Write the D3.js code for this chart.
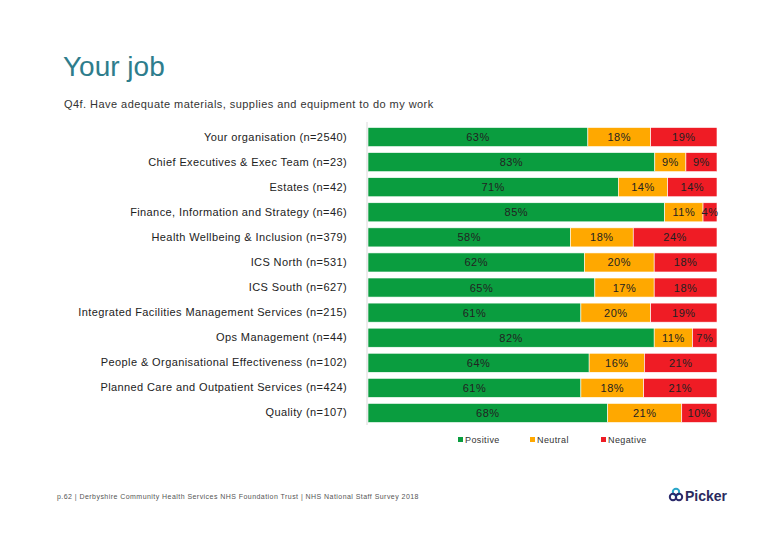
<!DOCTYPE html>
<html><head><meta charset="utf-8">
<script src="https://cdn.jsdelivr.net/npm/d3@7"></script>
<style>body{margin:0;background:#fff;}svg{display:block;}text{font-family:"Liberation Sans",Arial,sans-serif;}</style>
</head><body>
<svg id="c" width="780" height="540"></svg>
<script>
const categories = ["Your organisation (n=2540)","Chief Executives & Exec Team (n=23)","Estates (n=42)","Finance, Information and Strategy (n=46)","Health Wellbeing & Inclusion (n=379)","ICS North (n=531)","ICS South (n=627)","Integrated Facilities Management Services (n=215)","Ops Management (n=44)","People & Organisational Effectiveness (n=102)","Planned Care and Outpatient Services (n=424)","Quality (n=107)"];
const positive = [63,83,71,85,58,62,65,61,82,64,61,68];
const neutral  = [18,9,14,11,18,20,17,20,11,16,18,21];
const negative = [19,9,14,4,24,18,18,19,7,21,21,10];
const seriesNames = ["Positive","Neutral","Negative"];
const colors = ["#0a9d3f","#ffa800","#ef1c25"];

const svg = d3.select("#c");
const rows = categories.map((c,i)=>({cat:c,Positive:positive[i],Neutral:neutral[i],Negative:negative[i]}));
const stacked = d3.stack().keys(seriesNames).offset(d3.stackOffsetExpand)(rows);

const x = d3.scaleLinear().domain([0,1]).range([368,717]);
const y = d3.scaleBand().domain(categories).range([124.5,425.5]).paddingInner(0.24).paddingOuter(0.12);

// title
svg.append("text").attr("x",63).attr("y",76).attr("font-size",28).attr("fill","#2e7d8c").text("Your job");
svg.append("text").attr("x",64).attr("y",108).attr("font-size",11).attr("letter-spacing",0.45).attr("fill","#333").text("Q4f. Have adequate materials, supplies and equipment to do my work");

// bars
stacked.forEach((s,si)=>{
  const g = svg.append("g");
  g.selectAll("rect").data(s).join("rect")
    .attr("x",d=>x(d[0])).attr("y",d=>y(d.data.cat))
    .attr("width",d=>x(d[1])-x(d[0])).attr("height",y.bandwidth())
    .attr("fill",colors[si]).attr("stroke","#fff").attr("stroke-width",0.6);
  g.selectAll("text").data(s).join("text")
    .attr("x",d=>(x(d[0])+x(d[1]))/2).attr("y",d=>y(d.data.cat)+y.bandwidth()/2+4)
    .attr("text-anchor","middle").attr("font-size",11).attr("letter-spacing",0.5).attr("fill","#222")
    .text(d=>d.data[seriesNames[si]]+"%");
});

// axis
const ax = svg.append("g").attr("transform","translate(367,0)")
  .call(d3.axisLeft(y).tickSize(0).tickPadding(20));
ax.select(".domain").attr("stroke","#d9d9d9").attr("d","M0,122V425");
ax.selectAll("text").attr("font-size",11).attr("letter-spacing",0.4).attr("fill","#222").attr("font-family","Liberation Sans, Arial, sans-serif");

// legend
const lx = [458,530,601];
seriesNames.forEach((n,i)=>{
  svg.append("rect").attr("x",lx[i]).attr("y",437).attr("width",5).attr("height",5).attr("fill",colors[i]);
  svg.append("text").attr("x",lx[i]+7).attr("y",443).attr("font-size",9).attr("letter-spacing",0.4).attr("fill","#333").text(n);
});

// footer
svg.append("text").attr("x",57).attr("y",499).attr("font-size",7).attr("letter-spacing",0.45).attr("fill","#555")
  .text("p.62 | Derbyshire Community Health Services NHS Foundation Trust | NHS National Staff Survey 2018");

// Picker logo
const lg = svg.append("g").attr("transform","translate(670,495)");
lg.append("circle").attr("cx",6).attr("cy",-3).attr("r",3.2).attr("fill","none").attr("stroke","#2aa6c9").attr("stroke-width",2);
lg.append("circle").attr("cx",3).attr("cy",2).attr("r",3.2).attr("fill","none").attr("stroke","#2b2a6b").attr("stroke-width",2);
lg.append("circle").attr("cx",9).attr("cy",2).attr("r",3.2).attr("fill","none").attr("stroke","#2b2a6b").attr("stroke-width",2);
lg.append("text").attr("x",15).attr("y",5.5).attr("font-size",14).attr("font-weight","bold").attr("fill","#2b2a5e").text("Picker");
</script>
</body></html>
